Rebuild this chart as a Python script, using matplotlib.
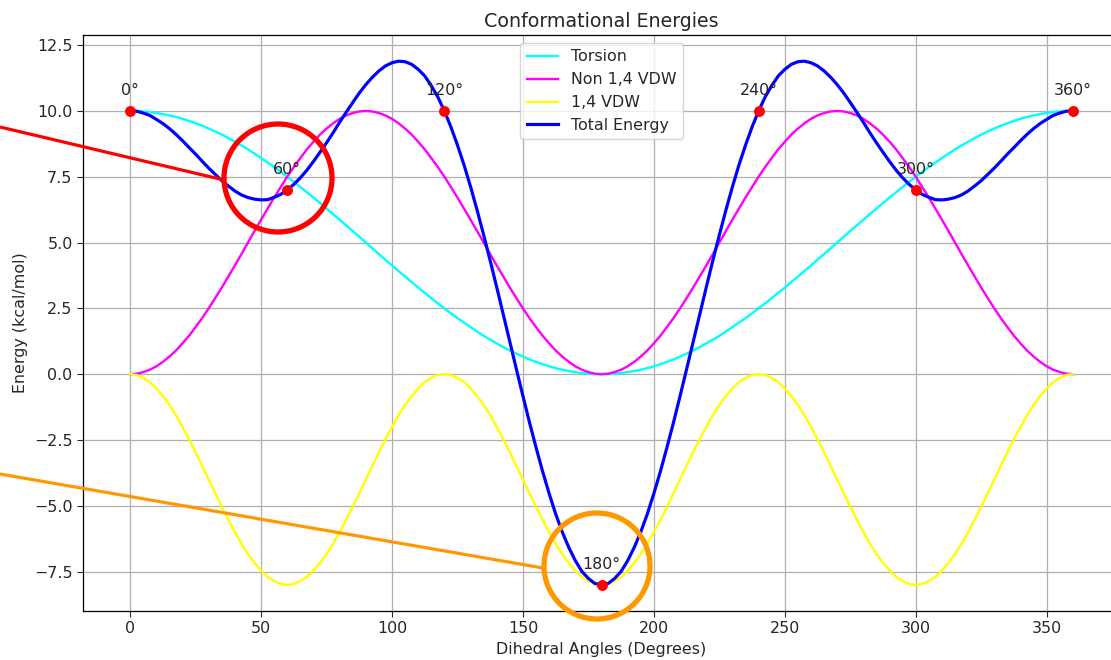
import numpy as np
import matplotlib
matplotlib.use("Agg")
import matplotlib.pyplot as plt
from matplotlib.patches import Circle

# ---- data (every 2.5 degrees) ----
angles = [i * 2.5 for i in range(145)]

torsion = [
    # 0 .. 90
    10.00, 10.00, 9.98, 9.96, 9.92, 9.88, 9.83, 9.77, 9.70, 9.62, 9.53, 9.44, 9.33,
    9.22, 9.10, 8.97, 8.83, 8.69, 8.54, 8.38, 8.21, 8.04, 7.87, 7.69, 7.50, 7.31,
    7.11, 6.91, 6.71, 6.50, 6.29, 6.08, 5.87, 5.65, 5.44, 5.22, 5.00,
    # 92.5 .. 180
    4.78, 4.56, 4.35, 4.13, 3.92, 3.71, 3.50, 3.29, 3.09, 2.89, 2.69, 2.50, 2.31,
    2.13, 1.96, 1.79, 1.62, 1.46, 1.31, 1.17, 1.03, 0.90, 0.78, 0.67, 0.56, 0.47,
    0.38, 0.30, 0.23, 0.17, 0.12, 0.08, 0.04, 0.02, 0.00, 0.00,
    # 182.5 .. 270
    0.00, 0.02, 0.04, 0.08, 0.12, 0.17, 0.23, 0.30, 0.38, 0.47, 0.56, 0.67, 0.78,
    0.90, 1.03, 1.17, 1.31, 1.46, 1.62, 1.79, 1.96, 2.13, 2.31, 2.50, 2.69, 2.89,
    3.09, 3.29, 3.50, 3.71, 3.92, 4.13, 4.35, 4.56, 4.78, 5.00,
    # 272.5 .. 360
    5.22, 5.44, 5.65, 5.87, 6.08, 6.29, 6.50, 6.71, 6.91, 7.11, 7.31, 7.50, 7.69,
    7.87, 8.04, 8.21, 8.38, 8.54, 8.69, 8.83, 8.97, 9.10, 9.22, 9.33, 9.44, 9.53,
    9.62, 9.70, 9.77, 9.83, 9.88, 9.92, 9.96, 9.98, 10.00, 10.00,
]

non_14_vdw = [
    # 0 .. 90
    0.00, 0.02, 0.08, 0.17, 0.30, 0.47, 0.67, 0.90, 1.17, 1.46, 1.79, 2.13, 2.50,
    2.89, 3.29, 3.71, 4.13, 4.56, 5.00, 5.44, 5.87, 6.29, 6.71, 7.11, 7.50, 7.87,
    8.21, 8.54, 8.83, 9.10, 9.33, 9.53, 9.70, 9.83, 9.92, 9.98, 10.00,
    # 92.5 .. 180
    9.98, 9.92, 9.83, 9.70, 9.53, 9.33, 9.10, 8.83, 8.54, 8.21, 7.87, 7.50, 7.11,
    6.71, 6.29, 5.87, 5.44, 5.00, 4.56, 4.13, 3.71, 3.29, 2.89, 2.50, 2.13, 1.79,
    1.46, 1.17, 0.90, 0.67, 0.47, 0.30, 0.17, 0.08, 0.02, 0.00,
    # 182.5 .. 270
    0.02, 0.08, 0.17, 0.30, 0.47, 0.67, 0.90, 1.17, 1.46, 1.79, 2.13, 2.50, 2.89,
    3.29, 3.71, 4.13, 4.56, 5.00, 5.44, 5.87, 6.29, 6.71, 7.11, 7.50, 7.87, 8.21,
    8.54, 8.83, 9.10, 9.33, 9.53, 9.70, 9.83, 9.92, 9.98, 10.00,
    # 272.5 .. 360
    9.98, 9.92, 9.83, 9.70, 9.53, 9.33, 9.10, 8.83, 8.54, 8.21, 7.87, 7.50, 7.11,
    6.71, 6.29, 5.87, 5.44, 5.00, 4.56, 4.13, 3.71, 3.29, 2.89, 2.50, 2.13, 1.79,
    1.46, 1.17, 0.90, 0.67, 0.47, 0.30, 0.17, 0.08, 0.02, 0.00,
]

vdw_14 = [
    # 0 .. 60
    0.00, -0.03, -0.14, -0.30, -0.54, -0.83, -1.17, -1.56, -2.00, -2.47, -2.96, -3.48,
    -4.00, -4.52, -5.04, -5.53, -6.00, -6.44, -6.83, -7.17, -7.46, -7.70, -7.86, -7.97,
    -8.00,
    # 62.5 .. 120
    -7.97, -7.86, -7.70, -7.46, -7.17, -6.83, -6.44, -6.00, -5.53, -5.04, -4.52, -4.00,
    -3.48, -2.96, -2.47, -2.00, -1.56, -1.17, -0.83, -0.54, -0.30, -0.14, -0.03, 0.00,
    # 122.5 .. 180
    -0.03, -0.14, -0.30, -0.54, -0.83, -1.17, -1.56, -2.00, -2.47, -2.96, -3.48, -4.00,
    -4.52, -5.04, -5.53, -6.00, -6.44, -6.83, -7.17, -7.46, -7.70, -7.86, -7.97, -8.00,
    # 182.5 .. 240
    -7.97, -7.86, -7.70, -7.46, -7.17, -6.83, -6.44, -6.00, -5.53, -5.04, -4.52, -4.00,
    -3.48, -2.96, -2.47, -2.00, -1.56, -1.17, -0.83, -0.54, -0.30, -0.14, -0.03, 0.00,
    # 242.5 .. 300
    -0.03, -0.14, -0.30, -0.54, -0.83, -1.17, -1.56, -2.00, -2.47, -2.96, -3.48, -4.00,
    -4.52, -5.04, -5.53, -6.00, -6.44, -6.83, -7.17, -7.46, -7.70, -7.86, -7.97, -8.00,
    # 302.5 .. 360
    -7.97, -7.86, -7.70, -7.46, -7.17, -6.83, -6.44, -6.00, -5.53, -5.04, -4.52, -4.00,
    -3.48, -2.96, -2.47, -2.00, -1.56, -1.17, -0.83, -0.54, -0.30, -0.14, -0.03, 0.00,
]

key_angles = [0, 60, 120, 180, 240, 300, 360]
key_labels = ["0°", "60°", "120°", "180°", "240°", "300°", "360°"]

assert len(torsion) == len(non_14_vdw) == len(vdw_14) == len(angles)

total = np.array(torsion) + np.array(non_14_vdw) + np.array(vdw_14)
key_totals = [total[angles.index(float(a))] for a in key_angles]

# ---- style ----
S = 1.14
plt.rcParams.update({
    "font.size": 10 * S,
    "axes.titlesize": 12 * S,
    "text.color": "#262626",
    "axes.labelcolor": "#262626",
    "xtick.color": "#262626",
    "ytick.color": "#262626",
    "xtick.major.size": 3.5 * S,
    "ytick.major.size": 3.5 * S,
    "axes.linewidth": 0.8 * S,
    "grid.linewidth": 0.8 * S,
})

W, H = 1111, 660
fig = plt.figure(figsize=(W / 100, H / 100), dpi=100)
ax = fig.add_axes([83 / W, 49 / H, 1037 / W, 576 / H])

ax.plot(angles, torsion, color="cyan", lw=1.5 * S, label="Torsion")
ax.plot(angles, non_14_vdw, color="magenta", lw=1.5 * S, label="Non 1,4 VDW")
ax.plot(angles, vdw_14, color="yellow", lw=1.5 * S, label="1,4 VDW")
ax.plot(angles, total, color="blue", lw=2.0 * S, label="Total Energy")
ax.plot(key_angles, key_totals, "o", color="red", ms=6 * S, zorder=5)

for a, t, lab in zip(key_angles, key_totals, key_labels):
    ax.annotate(lab, (a, t), textcoords="offset points", xytext=(0, 10 * S),
                ha="center")

ax.set_title("Conformational Energies")
ax.set_xlabel("Dihedral Angles (Degrees)")
ax.set_ylabel("Energy (kcal/mol)")
ax.grid(True)
ax.spines["right"].set_visible(False)
ax.legend(loc="upper center")

# ---- highlight overlay (figure pixel coords) ----
ov = fig.add_axes([0, 0, 1, 1])
ov.set_xlim(0, W)
ov.set_ylim(H, 0)
ov.axis("off")
ov.patch.set_alpha(0)

ov.plot([0, 224], [127, 180], color="red", lw=2.3, solid_capstyle="butt")
ov.add_patch(Circle((278, 178), 54, fill=False, ec="red", lw=3.8))
ov.plot([0, 543], [474, 568], color="#FF9800", lw=2.3, solid_capstyle="butt")
ov.add_patch(Circle((597, 566), 53, fill=False, ec="#FF9800", lw=3.8))

fig.savefig("out.png", dpi=100)
